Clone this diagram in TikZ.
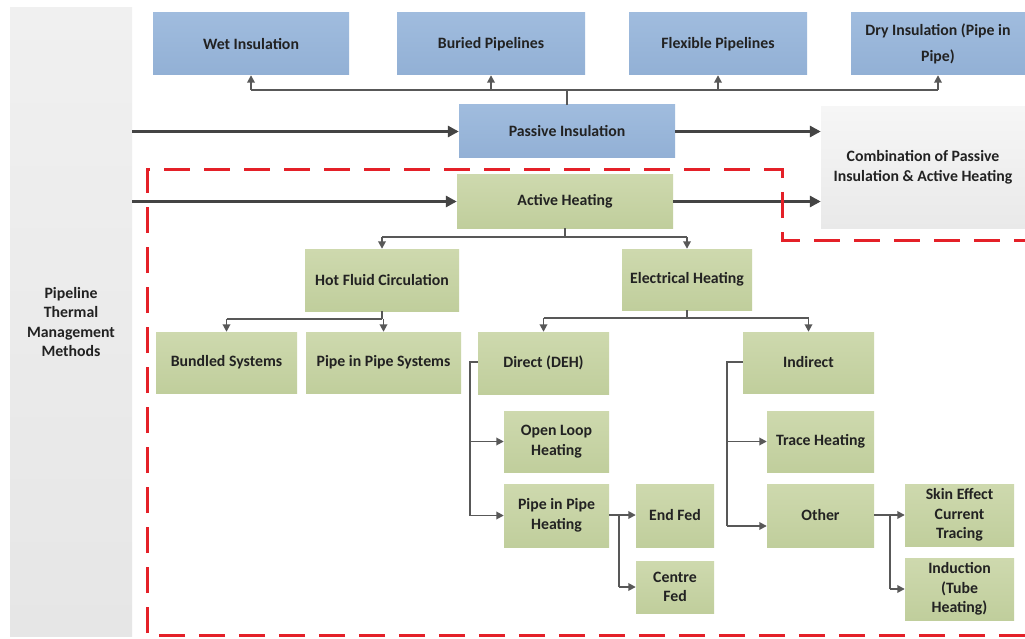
\documentclass[tikz,border=0pt]{standalone}
\usepackage{fontspec}
\setmainfont{Carlito}
\usetikzlibrary{arrows.meta}
\definecolor{blueA}{RGB}{160,188,222}
\definecolor{blueB}{RGB}{146,176,213}
\definecolor{greenA}{RGB}{206,217,174}
\definecolor{greenB}{RGB}{192,206,156}
\definecolor{grayA}{RGB}{240,240,240}
\definecolor{grayB}{RGB}{230,230,230}
\definecolor{comboA}{RGB}{246,246,246}
\definecolor{comboB}{RGB}{233,233,233}
\definecolor{dashred}{RGB}{228,32,40}
\definecolor{linegray}{RGB}{68,68,68}
\definecolor{treegray}{RGB}{88,88,88}
\definecolor{txt}{RGB}{34,34,34}
\tikzset{
  box/.style={rectangle, inner sep=2pt, align=center, text=txt,
    font=\fontsize{15.8}{19.5}\selectfont\bfseries},
  bluebox/.style={box, top color=blueA, bottom color=blueB},
  greenbox/.style={box, top color=greenA, bottom color=greenB},
  graybox/.style={box, top color=grayA, bottom color=grayB},
  combobox/.style={box, top color=comboA, bottom color=comboB},
  mainarrow/.style={draw=linegray, line width=3pt, -{Triangle[length=11pt,width=11pt]}},
  treearrow/.style={draw=treegray, line width=1.8pt, -{Triangle[length=7.5pt,width=7.5pt]}},
  treeline/.style={draw=treegray, line width=1.8pt},
  redframe/.style={draw=dashred, line width=3pt, dash pattern=on 26pt off 14pt},
}
\newcommand{\mybox}[7]{\node[#2, minimum width={(#5)-(#3)}, minimum height={(#6)-(#4)}] (#1) at ({((#3)+(#5))/2},{((#4)+(#6))/2}) {#7};}
\begin{document}
\begin{tikzpicture}[x=1pt,y=-1pt]
\useasboundingbox[fill=white] (0,0) rectangle (1025,639);
% left column
\mybox{ptm}{graybox}{10}{8}{132}{636}{Pipeline\\Thermal\\Management\\Methods}
% top row
\mybox{wet}{bluebox}{153}{13}{349}{75}{Wet Insulation}
\mybox{buried}{bluebox}{397}{13}{585}{75}{Buried Pipelines}
\mybox{flex}{bluebox}{629}{13}{807}{75}{Flexible Pipelines}
\mybox{dry}{bluebox}{851}{13}{1025}{75}{Dry Insulation (Pipe in\\[6pt]Pipe)}
\mybox{passive}{bluebox}{459}{105}{675}{158}{Passive Insulation}
\mybox{active}{greenbox}{457}{175}{673}{228}{Active Heating}
\mybox{combo}{combobox}{821}{107}{1025}{228}{Combination of Passive\\Insulation \& Active Heating}
% level 2
\mybox{hot}{greenbox}{305}{249}{459}{311}{Hot Fluid Circulation}
\mybox{elec}{greenbox}{622}{249}{752}{310}{Electrical Heating}
% level 3
\mybox{bundled}{greenbox}{156}{332}{297}{393}{Bundled Systems}
\mybox{pips}{greenbox}{306}{332}{461}{393}{Pipe in Pipe Systems}
\mybox{direct}{greenbox}{478}{332}{609}{394}{Direct (DEH)}
\mybox{indirect}{greenbox}{743}{332}{874}{393}{Indirect}
% level 4
\mybox{open}{greenbox}{504}{411}{609}{472}{Open Loop\\Heating}
\mybox{piph}{greenbox}{504}{484}{609}{547}{Pipe in Pipe\\Heating}
\mybox{endfed}{greenbox}{636}{484}{714}{547}{End Fed}
\mybox{centre}{greenbox}{636}{561}{714}{613}{Centre\\Fed}
\mybox{trace}{greenbox}{767}{411}{874}{472}{Trace Heating}
\mybox{other}{greenbox}{767}{484}{874}{547}{Other}
\mybox{skin}{greenbox}{905}{484}{1014}{546}{Skin Effect\\Current\\Tracing}
\mybox{induct}{greenbox}{905}{558}{1014}{620}{Induction\\(Tube\\Heating)}
% coordinates
\coordinate (topbus) at (567,90);
\coordinate (actbus) at (565,237);
\coordinate (hotbus) at (382,319);
\coordinate (elbus) at (687,318);
\coordinate (dirbus) at (470,362);
\coordinate (indbus) at (727,362);
\coordinate (indend) at (727,526);
\coordinate (pipbus) at (619,515);
\coordinate (othbus) at (890,515);
\coordinate (othend) at (890,589);
% main arrows
\draw[mainarrow] (ptm.east |- passive.west) -- (passive.west);
\draw[mainarrow] (ptm.east |- active.west) -- (active.west);
\draw[mainarrow] (passive.east) -- (combo.west |- passive.east);
\draw[mainarrow] (active.east) -- (combo.west |- active.east);
% passive -> top row
\draw[treeline] (passive.north -| topbus) -- (topbus);
\draw[treeline] (wet.south |- topbus) -- (dry.south |- topbus);
\draw[treearrow] (wet.south |- topbus) -- (wet.south);
\draw[treearrow] (buried.south |- topbus) -- (buried.south);
\draw[treearrow] (flex.south |- topbus) -- (flex.south);
\draw[treearrow] (dry.south |- topbus) -- (dry.south);
% active -> level 2
\draw[treeline] (active.south -| actbus) -- (actbus);
\draw[treeline] (hot.north |- actbus) -- (elec.north |- actbus);
\draw[treearrow] (hot.north |- actbus) -- (hot.north);
\draw[treearrow] (elec.north |- actbus) -- (elec.north);
% hot fluid -> children
\draw[treeline] (hot.south) -- (hotbus);
\draw[treeline] (bundled.north |- hotbus) -- (hotbus);
\draw[treearrow] (bundled.north |- hotbus) -- (bundled.north);
\draw[treearrow] (pips.north |- hotbus) -- (pips.north);
% electrical -> children
\draw[treeline] (elec.south) -- (elbus);
\draw[treeline] (direct.north |- elbus) -- (indirect.north |- elbus);
\draw[treearrow] (direct.north |- elbus) -- (direct.north);
\draw[treearrow] (indirect.north |- elbus) -- (indirect.north);
% direct bracket
\draw[treeline] (direct.west |- dirbus) -- (dirbus) -- (dirbus |- piph.west);
\draw[treearrow] (dirbus |- open.west) -- (open.west);
\draw[treearrow] (dirbus |- piph.west) -- (piph.west);
% indirect bracket
\draw[treeline] (indirect.west |- indbus) -- (indbus) -- (indend);
\draw[treearrow] (indbus |- trace.west) -- (trace.west);
\draw[treearrow] (indend) -- (other.west |- indend);
% pipe in pipe heating -> end/centre
\draw[treeline] (piph.east |- pipbus) -- (pipbus) -- (pipbus |- centre.west);
\draw[treearrow] (pipbus) -- (endfed.west |- pipbus);
\draw[treearrow] (pipbus |- centre.west) -- (centre.west);
% other -> skin/induction
\draw[treeline] (other.east |- othbus) -- (othbus) -- (othend);
\draw[treearrow] (othbus) -- (skin.west |- othbus);
\draw[treearrow] (othend) -- (induct.west |- othend);
% red dashed frame
\draw[redframe] (1025,635) -- (147,635) -- (147,170) -- (782,170) -- (782,240) -- (1025,240);
\end{tikzpicture}
\end{document}
